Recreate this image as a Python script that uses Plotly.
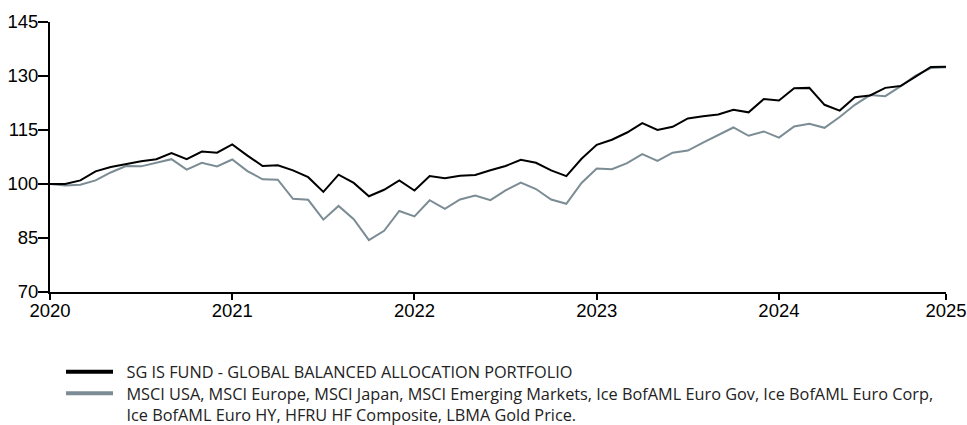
import plotly.graph_objects as go

# Monthly index values (Jan 2020 ... Dec 2024), 60 points
fund = [100.0, 100.0, 101.0, 103.5, 104.7, 105.6, 106.3, 106.9, 108.6, 106.9,
        109.0, 108.7, 111.0, 107.9, 105.0, 105.2, 103.8, 101.9, 97.8, 102.6,
        100.3, 96.6, 98.4, 101.0, 98.2, 102.2, 101.6, 102.3, 102.5, 103.8,
        105.0, 106.7, 105.9, 103.8, 102.2, 107.0, 110.9, 112.3, 114.3, 116.9,
        115.0, 115.9, 118.2, 118.8, 119.3, 120.6, 119.9, 123.6, 123.2, 126.6,
        126.7, 122.0, 120.4, 124.1, 124.6, 126.7, 127.2, 129.8, 132.5, 132.6]

benchmark = [100.0, 99.6, 99.8, 101.0, 103.2, 105.0, 104.9, 105.8, 106.9, 104.0,
             105.9, 104.9, 106.8, 103.6, 101.3, 101.2, 95.9, 95.6, 90.1, 93.9,
             90.2, 84.4, 87.0, 92.5, 91.0, 95.5, 93.1, 95.7, 96.8, 95.5,
             98.2, 100.4, 98.6, 95.7, 94.5, 100.3, 104.3, 104.1, 105.8, 108.3,
             106.4, 108.7, 109.3, 111.5, 113.7, 115.7, 113.4, 114.6, 112.9, 116.0,
             116.7, 115.6, 118.6, 122.0, 124.7, 124.4, 127.1, 130.1, 132.2, 132.4]

tick_positions = [0, 12, 24, 36, 48, 59]
tick_labels = ["2020", "2021", "2022", "2023", "2024", "2025"]
y_ticks = [70, 85, 100, 115, 130, 145]

NB = "\u00a0\u00a0"
fund_name = NB + "SG IS FUND - GLOBAL BALANCED ALLOCATION PORTFOLIO"
bench_name = (NB + "MSCI USA, MSCI Europe, MSCI Japan, MSCI Emerging Markets, Ice BofAML Euro Gov, "
              "Ice BofAML Euro Corp,<br>" + NB + "Ice BofAML Euro HY, HFRU HF Composite, LBMA Gold Price.")

BLACK = "#000000"
GREY = "#7b8c94"

x = list(range(len(fund)))

fig = go.Figure()
fig.add_trace(go.Scatter(x=x, y=benchmark, mode="lines", line=dict(color=GREY, width=2),
                         showlegend=False, hoverinfo="skip"))
fig.add_trace(go.Scatter(x=x, y=fund, mode="lines", line=dict(color=BLACK, width=2),
                         showlegend=False, hoverinfo="skip"))
# legend entries (thicker symbols as in the reference)
fig.add_trace(go.Scatter(x=[None], y=[None], mode="lines", name=fund_name,
                         line=dict(color=BLACK, width=4), legend="legend"))
fig.add_trace(go.Scatter(x=[None], y=[None], mode="lines", name=bench_name,
                         line=dict(color=GREY, width=4), legend="legend2"))

legend_font = dict(family="Open Sans, sans-serif", size=16.3, color="#222222")
legend_common = dict(
    xanchor="left", yanchor="top", orientation="v", valign="top",
    itemwidth=47, font=legend_font, bgcolor="rgba(0,0,0,0)", borderwidth=0,
)

fig.update_layout(
    width=967, height=425,
    margin=dict(l=50, r=21, t=22, b=133, autoexpand=False),
    paper_bgcolor="white", plot_bgcolor="white",
    font=dict(family="Liberation Sans, Arial, sans-serif", color="#000000"),
    legend=dict(x=0.0123, y=-0.2320, **legend_common),
    legend2=dict(x=0.0123, y=-0.3120, **legend_common),
)
fig.update_xaxes(
    range=[0, 59], tickmode="array", tickvals=tick_positions, ticktext=tick_labels,
    showgrid=False, zeroline=False, showline=True, linecolor="#000000", linewidth=2,
    ticks="outside", ticklen=6, tickwidth=2, tickcolor="#000000", ticklabelstandoff=-5,
    tickfont=dict(size=18.5, family="Liberation Sans, Arial, sans-serif", color="#000000"),
    fixedrange=True, automargin=False,
)
fig.update_yaxes(
    range=[70, 145], tickmode="array", tickvals=y_ticks,
    showgrid=False, zeroline=False, showline=True, linecolor="#000000", linewidth=2,
    ticks="outside", ticklen=10, tickwidth=2, tickcolor="#000000", ticklabelstandoff=-4,
    tickfont=dict(size=18.5, family="Liberation Sans, Arial, sans-serif", color="#000000"),
    fixedrange=True, automargin=False,
)

fig.write_html(
    "out.html",
    config={"displayModeBar": False},
    post_script="document.body.style.margin='0';document.body.style.overflow='hidden';",
)
